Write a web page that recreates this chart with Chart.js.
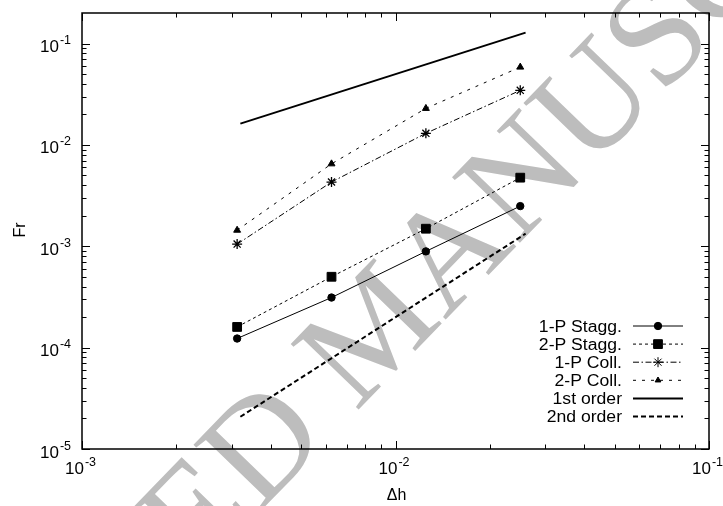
<!DOCTYPE html>
<html>
<head>
<meta charset="utf-8">
<script src="https://cdn.jsdelivr.net/npm/chart.js@4.4.1/dist/chart.umd.min.js"></script>
<style>
  html, body { margin: 0; padding: 0; background: #fff; }
  #wrap { width: 723px; height: 506px; }
</style>
</head>
<body>
<div id="wrap"><canvas id="frChart" width="723" height="506"></canvas></div>
<script>
// grid spacing dh and the Fr error for each scheme
const dh = [1 / 320, 1 / 160, 1 / 80, 1 / 40];
const stagg1P = [1.23e-4, 3.12e-4, 8.9e-4, 2.49e-3];
const stagg2P = [1.6e-4, 5.0e-4, 1.49e-3, 4.75e-3];
const coll1P = [1.05e-3, 4.3e-3, 1.3e-2, 3.45e-2];
const coll2P = [1.44e-3, 6.5e-3, 2.29e-2, 5.85e-2];
// reference slopes
const orderX = [3.2e-3, 2.6e-2];
const firstOrder = [1.62e-2, 0.128];
const secondOrder = [2.08e-5, 1.33e-3];

const seriesLabels = ["1-P Stagg.", "2-P Stagg.", "1-P Coll.", "2-P Coll.", "1st order", "2nd order"];
const xDecades = [-3, -2, -1];
const yDecades = [-5, -4, -3, -2, -1];
const xTitle = "\u0394h";
const yTitle = "Fr";
const watermarkText = "ACCEPTED MANUSCRIPT";

const FONT = "'Liberation Sans', Arial, Helvetica, sans-serif";

function toPoints(xs, ys) {
  return xs.map((x, i) => ({ x, y: ys[i] }));
}

function drawText(ctx, text, x, y, size, align, sx) {
  ctx.save();
  ctx.font = `${size}px ${FONT}`;
  ctx.textAlign = align;
  ctx.textBaseline = "alphabetic";
  ctx.translate(x, y);
  ctx.scale(sx || 1, 1);
  ctx.fillText(text, 0, 0);
  ctx.restore();
}

// "10" with a raised exponent
function drawPower(ctx, exp, x, baseY, align) {
  ctx.save();
  ctx.font = `17px ${FONT}`;
  const wBase = ctx.measureText("10").width;
  ctx.font = `12.5px ${FONT}`;
  const sup = String(exp);
  const wExp = ctx.measureText(sup).width;
  const total = wBase + 1 + wExp;
  let left = x;
  if (align === "right") left = x - total;
  if (align === "center") left = x - total / 2;
  ctx.fillStyle = "#000";
  ctx.textAlign = "left";
  ctx.textBaseline = "alphabetic";
  ctx.font = `17px ${FONT}`;
  ctx.fillText("10", left, baseY);
  ctx.font = `12.5px ${FONT}`;
  ctx.fillText(sup, left + wBase + 1, baseY - 8);
  ctx.restore();
}

const frameAndText = {
  id: "frameAndText",
  beforeDraw(chart) {
    const ctx = chart.ctx;
    ctx.save();
    ctx.fillStyle = "#fff";
    ctx.fillRect(0, 0, chart.width, chart.height);
    // watermark behind everything
    ctx.translate(380, 333);
    ctx.rotate((-46 * Math.PI) / 180);
    ctx.font = "144px 'Liberation Serif', 'Times New Roman', serif";
    ctx.fillStyle = "#bdbdbd";
    ctx.textAlign = "center";
    ctx.textBaseline = "middle";
    ctx.fillText(watermarkText, 0, 0);
    ctx.restore();
  },
  afterDraw(chart) {
    const ctx = chart.ctx;
    const { left, right, top, bottom } = chart.chartArea;
    const xs = chart.scales.x;
    const ys = chart.scales.y;

    ctx.save();
    ctx.strokeStyle = "#000";
    ctx.fillStyle = "#000";

    // inward ticks on all four sides
    ctx.lineWidth = 1;
    ctx.beginPath();
    xDecades.forEach((d) => {
      for (let m = 1; m <= 9; m++) {
        const v = m * Math.pow(10, d);
        if (v < xs.min || v > xs.max) continue;
        const px = Math.round(xs.getPixelForValue(v)) + 0.5;
        const len = m === 1 ? 8 : 4.5;
        ctx.moveTo(px, bottom);
        ctx.lineTo(px, bottom - len);
        ctx.moveTo(px, top);
        ctx.lineTo(px, top + len);
      }
    });
    yDecades.forEach((d) => {
      for (let m = 1; m <= 9; m++) {
        const v = m * Math.pow(10, d);
        if (v < ys.min || v >= ys.max) continue;
        const py = Math.round(ys.getPixelForValue(v)) + 0.5;
        const len = m === 1 ? 8 : 4.5;
        ctx.moveTo(left, py);
        ctx.lineTo(left + len, py);
        ctx.moveTo(right, py);
        ctx.lineTo(right - len, py);
      }
    });
    ctx.stroke();

    ctx.lineWidth = 1.5;
    ctx.strokeRect(left, top, right - left, bottom - top);

    // tick labels
    xDecades.forEach((d) => {
      drawPower(ctx, d, xs.getPixelForValue(Math.pow(10, d)) - 1.5, 474, "center");
    });
    yDecades.forEach((d) => {
      drawPower(ctx, d, 71, ys.getPixelForValue(Math.pow(10, d)) + 8.5, "right");
    });

    // axis titles
    drawText(ctx, xTitle, (left + right) / 2 + 1, 500, 16, "center");
    ctx.save();
    ctx.translate(25, 230);
    ctx.rotate(-Math.PI / 2);
    drawText(ctx, yTitle, 0, 0, 16, "center");
    ctx.restore();

    // key
    const rowY = 326;
    const rowStep = 18.1;
    chart.data.datasets.forEach((ds, i) => {
      const y = rowY + i * rowStep;
      drawText(ctx, ds.label, 622, y + 5.5, 16, "right", 1.1);
      ctx.save();
      ctx.lineWidth = ds.borderWidth;
      ctx.setLineDash(ds.borderDash || []);
      ctx.beginPath();
      ctx.moveTo(633, y);
      ctx.lineTo(683, y);
      ctx.stroke();
      ctx.restore();
      if (ds.pointRadius > 0) {
        ctx.save();
        ctx.setLineDash([]);
        ctx.fillStyle = "#000";
        ctx.strokeStyle = "#000";
        ctx.lineWidth = 1;
        Chart.helpers.drawPoint(ctx, {
          pointStyle: ds.pointStyle,
          radius: ds.pointStyle === "triangle" ? 3.3 : ds.pointRadius,
          rotation: 0,
          borderWidth: 1,
        }, 658, y);
        ctx.restore();
      }
    });
    ctx.restore();
  },
};

function series(label, xs, ys, opts) {
  return Object.assign({
    label,
    data: toPoints(xs, ys),
    borderColor: "#000",
    backgroundColor: "#000",
    pointBorderColor: "#000",
    pointBackgroundColor: "#000",
    borderWidth: 1,
    pointBorderWidth: 1,
    pointRadius: 0,
    tension: 0,
    fill: false,
  }, opts);
}

new Chart(document.getElementById("frChart"), {
  type: "line",
  data: {
    datasets: [
      series(seriesLabels[0], dh, stagg1P, { pointStyle: "circle", pointRadius: 3.7 }),
      series(seriesLabels[1], dh, stagg2P, { pointStyle: "rect", pointRadius: 6.2, borderDash: [3, 3] }),
      series(seriesLabels[2], dh, coll1P, { pointStyle: "star", pointRadius: 5, pointBorderWidth: 1.3, borderDash: [6, 2.5, 1.5, 2.5] }),
      series(seriesLabels[3], dh, coll2P, { pointStyle: "triangle", pointRadius: 4, borderDash: [3, 6] }),
      series(seriesLabels[4], orderX, firstOrder, { borderWidth: 2 }),
      series(seriesLabels[5], orderX, secondOrder, { borderWidth: 2, borderDash: [5, 3] }),
    ],
  },
  options: {
    responsive: false,
    animation: false,
    devicePixelRatio: 1,
    layout: { padding: { top: 13, right: 14, left: 0, bottom: 0 } },
    plugins: {
      legend: { display: false },
      tooltip: { enabled: false },
    },
    scales: {
      x: {
        type: "logarithmic",
        min: 1e-3,
        max: 1e-1,
        grid: { display: false },
        border: { display: false },
        ticks: { display: false },
        afterFit: (s) => { s.height = 57; },
      },
      y: {
        type: "logarithmic",
        min: 1e-5,
        max: 0.2,
        grid: { display: false },
        border: { display: false },
        ticks: { display: false },
        afterFit: (s) => { s.width = 82; },
      },
    },
  },
  plugins: [frameAndText],
});
</script>
</body>
</html>
